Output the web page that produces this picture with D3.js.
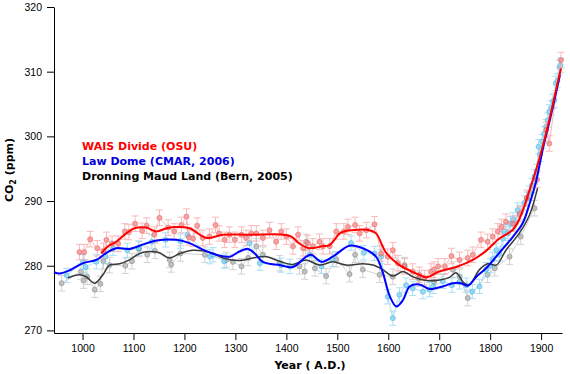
<!DOCTYPE html>
<html>
<head>
<meta charset="utf-8">
<script src="https://cdn.jsdelivr.net/npm/d3@7"></script>
<style>
  body { margin: 0; background: #fff; }
  .tick text { font-family: "Liberation Sans", Arial, sans-serif; font-size: 10.5px; }
</style>
</head>
<body>
<div id="chart"></div>
<script>
// WAIS Divide (OSU) measurements
const waisYears = [994, 1003, 1015, 1029, 1041, 1047, 1058, 1070, 1083, 1091, 1103, 1117, 1126, 1141, 1151, 1168, 1180, 1194, 1204, 1209, 1217, 1225, 1236, 1249, 1261, 1268, 1279, 1288, 1299, 1312, 1321, 1331, 1341, 1354, 1367, 1380, 1390, 1400, 1413, 1423, 1433, 1442, 1452, 1465, 1472, 1485, 1498, 1513, 1521, 1535, 1544, 1557, 1573, 1586, 1599, 1609, 1619, 1632, 1648, 1661, 1671, 1684, 1690, 1698, 1711, 1724, 1740, 1756, 1766, 1782, 1795, 1805, 1815, 1822, 1831, 1845, 1858, 1872, 1892, 1910, 1916, 1939];
const waisCO2 = [282.1, 282.1, 284.1, 282.7, 282.3, 284.0, 283.4, 283.4, 285.3, 285.2, 286.5, 285.4, 286.2, 284.8, 287.4, 285.9, 285.3, 286.3, 287.6, 284.4, 284.2, 286.2, 284.3, 284.5, 286.3, 285.0, 284.0, 284.8, 284.0, 284.8, 284.3, 285.0, 285.0, 284.3, 285.5, 283.7, 285.3, 284.5, 283.0, 284.8, 282.7, 283.5, 283.0, 283.7, 283.0, 283.0, 285.3, 285.3, 286.0, 286.3, 285.0, 285.5, 286.4, 281.9, 281.4, 282.4, 280.4, 279.9, 279.1, 278.6, 278.1, 279.1, 279.4, 279.9, 279.9, 281.5, 280.9, 281.2, 281.7, 284.0, 283.7, 284.5, 285.3, 286.0, 286.8, 286.5, 288.0, 290.5, 293.3, 301.0, 298.9, 311.8];

// Law Dome (CMAR, 2006) measurements
const lawYears = [969, 1001, 1006, 1027, 1045, 1060, 1088, 1110, 1136, 1163, 1192, 1206, 1250, 1256, 1278, 1328, 1348, 1390, 1407, 1446, 1469, 1490, 1527, 1552, 1573, 1586, 1599, 1609, 1622, 1635, 1648, 1668, 1681, 1688, 1707, 1725, 1740, 1753, 1765, 1779, 1792, 1800, 1805, 1812, 1818, 1825, 1828, 1835, 1840, 1845, 1850, 1854, 1860, 1867, 1872, 1877, 1882, 1887, 1891, 1895, 1898, 1902, 1906, 1910, 1913, 1916, 1920, 1923, 1926, 1929, 1932, 1936, 1938];
const lawCO2 = [278.5, 280.6, 279.8, 280.6, 281.4, 282.7, 282.4, 282.7, 283.7, 284.0, 283.8, 284.8, 281.4, 281.7, 280.7, 283.5, 280.4, 280.1, 279.9, 281.7, 279.9, 281.0, 283.5, 282.0, 281.9, 281.4, 275.2, 271.9, 275.5, 277.0, 276.5, 276.0, 276.3, 276.8, 277.6, 277.0, 277.5, 277.0, 276.0, 276.8, 279.4, 280.0, 281.0, 282.4, 281.8, 284.2, 285.3, 285.0, 286.5, 287.1, 286.6, 288.6, 288.2, 289.7, 290.3, 291.2, 292.4, 293.8, 294.6, 298.4, 297.2, 299.2, 300.4, 301.5, 302.5, 303.8, 304.4, 305.4, 305.6, 308.2, 308.6, 310.7, 311.0];

// Dronning Maud Land (Bern, 2005) measurements
const dmlYears = [959, 997, 1002, 1009, 1024, 1035, 1041, 1053, 1084, 1097, 1111, 1127, 1142, 1171, 1174, 1192, 1240, 1282, 1295, 1312, 1325, 1341, 1354, 1387, 1426, 1436, 1439, 1456, 1478, 1498, 1524, 1535, 1550, 1583, 1609, 1632, 1660, 1690, 1727, 1740, 1756, 1795, 1809, 1838, 1860, 1887];
const dmlCO2 = [277.3, 279.1, 277.7, 278.3, 276.3, 277.2, 280.7, 280.1, 280.0, 280.7, 282.6, 281.7, 282.3, 280.9, 280.2, 281.9, 281.7, 280.9, 280.6, 279.9, 281.2, 283.0, 281.7, 280.4, 279.9, 279.1, 283.7, 279.6, 278.4, 281.0, 278.7, 281.7, 279.4, 278.6, 278.3, 280.1, 278.0, 277.5, 279.4, 278.3, 275.0, 278.6, 279.6, 281.4, 284.5, 288.9];

// Smoothed curves
const waisSmoothYears = [1037, 1050, 1066, 1086, 1102, 1125, 1145, 1165, 1184, 1210, 1243, 1276, 1328, 1393, 1410, 1426, 1446, 1470, 1485, 1505, 1518, 1563, 1576, 1596, 1622, 1661, 1675, 1700, 1733, 1766, 1792, 1818, 1845, 1860, 1877, 1890, 1903, 1916, 1929, 1939];
const waisSmooth = [281.9, 283.0, 283.7, 285.0, 285.8, 285.9, 285.3, 285.8, 286.0, 285.8, 284.3, 284.8, 284.8, 284.8, 284.5, 283.4, 282.7, 283.0, 283.2, 285.0, 285.4, 285.5, 285.0, 282.0, 280.1, 278.6, 278.2, 279.1, 279.8, 280.9, 282.3, 284.2, 285.6, 287.7, 291.6, 294.8, 298.4, 302.5, 307.1, 310.5];
const lawSmoothYears = [944, 955, 975, 1001, 1027, 1047, 1066, 1092, 1119, 1145, 1184, 1210, 1236, 1263, 1289, 1308, 1325, 1338, 1354, 1387, 1413, 1439, 1449, 1469, 1491, 1524, 1550, 1576, 1589, 1603, 1616, 1629, 1642, 1661, 1681, 1707, 1727, 1743, 1756, 1773, 1792, 1818, 1845, 1864, 1877, 1890, 1903, 1920, 1937];
const lawSmooth = [279.0, 278.8, 279.3, 280.4, 280.9, 282.0, 282.7, 282.6, 283.3, 283.9, 284.0, 283.5, 282.5, 281.7, 281.4, 282.2, 282.6, 281.9, 280.6, 280.1, 279.8, 281.4, 281.7, 280.6, 281.4, 283.1, 282.7, 281.4, 279.0, 275.3, 273.7, 274.7, 276.8, 277.1, 276.4, 276.8, 277.3, 277.3, 276.9, 278.3, 279.6, 282.0, 284.5, 286.6, 289.5, 293.0, 297.9, 303.5, 309.5];
const dmlSmoothYears = [971, 994, 1007, 1024, 1040, 1053, 1073, 1092, 1112, 1132, 1151, 1171, 1191, 1217, 1236, 1256, 1276, 1308, 1334, 1361, 1387, 1413, 1439, 1465, 1491, 1518, 1550, 1570, 1589, 1609, 1629, 1648, 1675, 1701, 1720, 1733, 1749, 1759, 1779, 1795, 1812, 1831, 1857, 1877, 1893];
const dmlSmooth = [278.1, 278.6, 278.3, 277.3, 278.6, 280.1, 280.3, 280.9, 281.9, 282.2, 282.0, 281.2, 281.9, 282.4, 282.3, 281.9, 281.2, 280.8, 281.2, 281.4, 280.7, 280.2, 280.9, 280.1, 280.6, 280.1, 280.3, 280.1, 279.4, 278.4, 279.1, 278.3, 277.7, 277.8, 278.2, 278.9, 277.3, 277.0, 279.4, 280.3, 280.1, 282.4, 285.0, 287.8, 292.0];

// Error bar half-widths (ppm)
const waisErr = 1.2;
const lawErr = 1.1;
const dmlErr = 1.2;

// Axis ticks and legend text
const xTicks = [1000, 1100, 1200, 1300, 1400, 1500, 1600, 1700, 1800, 1900];
const yTicks = [270, 280, 290, 300, 310, 320];
const legendLabels = ["WAIS Divide (OSU)", "Law Dome (CMAR, 2006)", "Dronning Maud Land (Bern, 2005)"];

// Chart dimensions
const margin = { top: 7, right: 8, bottom: 41, left: 54 };
const width = 570 - margin.left - margin.right;
const height = 374 - margin.top - margin.bottom;

const svg = d3.select("#chart")
  .append("svg")
  .attr("width", 570)
  .attr("height", 374)
  .append("g")
  .attr("transform", "translate(" + margin.left + "," + margin.top + ")");

const xScale = d3.scaleLinear().domain([944, 1941]).range([0, width]);
const yScale = d3.scaleLinear().domain([269.6, 320]).range([height, 0]);

// Axes
svg.append("g")
  .attr("transform", "translate(0," + height + ")")
  .call(d3.axisBottom(xScale).tickValues(xTicks).tickFormat(d3.format("d")).tickSize(7).tickSizeOuter(0).tickPadding(5))
  .call(function(g) { g.selectAll("path, line").attr("stroke", "#000"); });

svg.append("g")
  .call(d3.axisLeft(yScale).tickValues(yTicks).tickSize(7).tickSizeOuter(0).tickPadding(5))
  .call(function(g) { g.selectAll("path, line").attr("stroke", "#000"); });

// Measurement series with error bars and markers
function drawSeries(years, values, err, lineColor, fillColor, strokeColor) {
  const pts = years.map(function(d, i) { return { x: d, y: values[i] }; });
  const g = svg.append("g").attr("opacity", 0.75);

  g.append("path")
    .datum(pts)
    .attr("fill", "none")
    .attr("stroke", lineColor)
    .attr("stroke-width", 1)
    .attr("d", d3.line()
      .x(function(d) { return xScale(d.x); })
      .y(function(d) { return yScale(d.y); }));

  const bars = g.selectAll(".err")
    .data(pts)
    .enter()
    .append("g")
    .attr("stroke", lineColor)
    .attr("stroke-width", 1);

  bars.append("line")
    .attr("x1", function(d) { return xScale(d.x); })
    .attr("x2", function(d) { return xScale(d.x); })
    .attr("y1", function(d) { return yScale(d.y - err); })
    .attr("y2", function(d) { return yScale(d.y + err); });
  bars.append("line")
    .attr("x1", function(d) { return xScale(d.x) - 3.5; })
    .attr("x2", function(d) { return xScale(d.x) + 3.5; })
    .attr("y1", function(d) { return yScale(d.y + err); })
    .attr("y2", function(d) { return yScale(d.y + err); });
  bars.append("line")
    .attr("x1", function(d) { return xScale(d.x) - 3.5; })
    .attr("x2", function(d) { return xScale(d.x) + 3.5; })
    .attr("y1", function(d) { return yScale(d.y - err); })
    .attr("y2", function(d) { return yScale(d.y - err); });

  g.selectAll("circle")
    .data(pts)
    .enter()
    .append("circle")
    .attr("cx", function(d) { return xScale(d.x); })
    .attr("cy", function(d) { return yScale(d.y); })
    .attr("r", 2.5)
    .attr("fill", fillColor)
    .attr("stroke", strokeColor)
    .attr("stroke-width", 0.8);
}

drawSeries(dmlYears, dmlCO2, dmlErr, "#c4c4c4", "#acacac", "#7a7a7a");
drawSeries(lawYears, lawCO2, lawErr, "#8fd6f5", "#74cff3", "#33aae0");
drawSeries(waisYears, waisCO2, waisErr, "#f7a3a3", "#f58383", "#e45050");

// Smoothed lines
function drawSmooth(years, values, color, w) {
  const pts = years.map(function(d, i) { return { x: d, y: values[i] }; });
  svg.append("path")
    .datum(pts)
    .attr("fill", "none")
    .attr("stroke", color)
    .attr("stroke-width", w)
    .attr("d", d3.line()
      .curve(d3.curveCatmullRom)
      .x(function(d) { return xScale(d.x); })
      .y(function(d) { return yScale(d.y); }));
}

drawSmooth(dmlSmoothYears, dmlSmooth, "#3a3a3a", 1.5);
drawSmooth(lawSmoothYears, lawSmooth, "#0000ff", 2);
drawSmooth(waisSmoothYears, waisSmooth, "#ff0000", 2);

// Legend
const legendColors = ["#ff0000", "#0000dd", "#000000"];
svg.selectAll(".legend")
  .data(legendLabels)
  .enter()
  .append("text")
  .attr("x", 82 - margin.left)
  .attr("y", function(d, i) { return 149.5 - margin.top + i * 15; })
  .attr("fill", function(d, i) { return legendColors[i]; })
  .attr("font-family", "DejaVu Sans, sans-serif")
  .attr("font-weight", "bold")
  .attr("font-size", "11px")
  .text(function(d) { return d; });

// Axis titles
svg.append("text")
  .attr("x", width / 2 + 2)
  .attr("y", height + 36)
  .attr("text-anchor", "middle")
  .attr("font-family", "DejaVu Sans, sans-serif")
  .attr("font-weight", "bold")
  .attr("font-size", "11px")
  .text("Year ( A.D.)");

const yTitle = svg.append("text")
  .attr("transform", "translate(" + (13 - margin.left) + "," + (170 - margin.top) + ") rotate(-90)")
  .attr("text-anchor", "middle")
  .attr("font-family", "DejaVu Sans, sans-serif")
  .attr("font-weight", "bold")
  .attr("font-size", "11px");
yTitle.append("tspan").text("CO");
yTitle.append("tspan").attr("font-size", "8px").attr("dy", 3).text("2");
yTitle.append("tspan").attr("dy", -3).text(" (ppm)");
</script>
</body>
</html>
